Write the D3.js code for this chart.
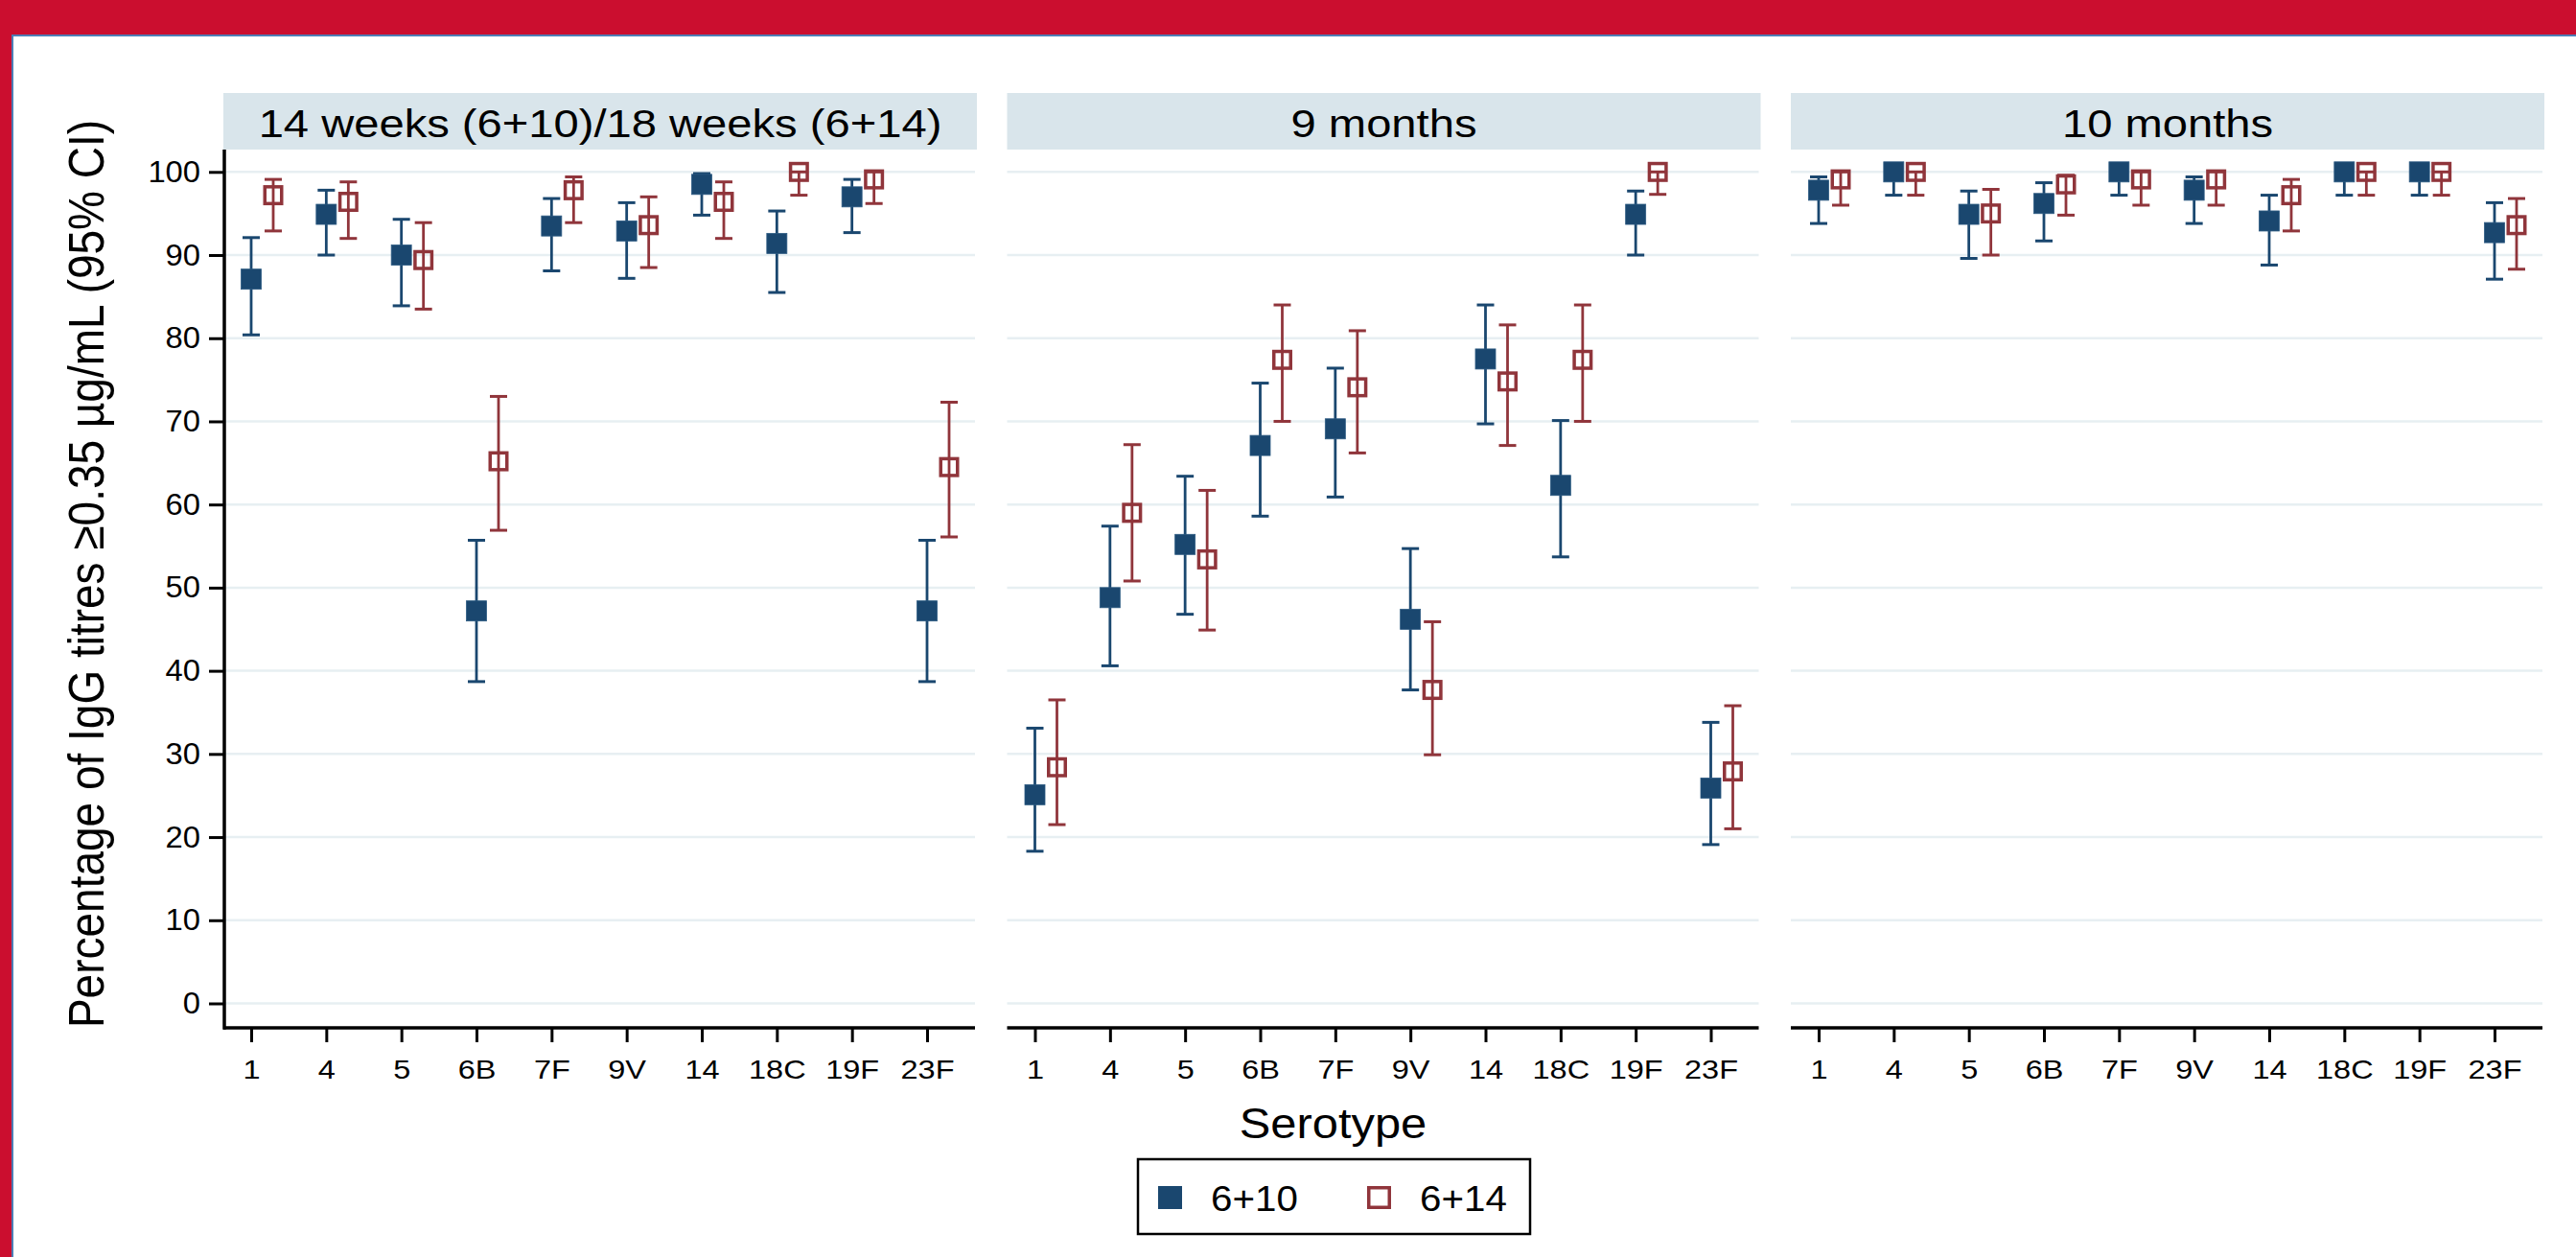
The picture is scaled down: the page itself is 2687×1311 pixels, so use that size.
<!DOCTYPE html>
<html>
<head>
<meta charset="utf-8">
<script src="https://cdn.jsdelivr.net/npm/d3@7"></script>
<style>
  body { margin: 0; background: #fff; }
  svg text { font-family: "Liberation Sans", Arial, sans-serif; fill: #000; }
</style>
</head>
<body>
<svg id="graph"></svg>
<script>
// données : % IgG >= 0.35 µg/mL (IC 95 %)
const serotypes = ["1", "4", "5", "6B", "7F", "9V", "14", "18C", "19F", "23F"];
const panelTitles = ["14 weeks (6+10)/18 weeks (6+14)", "9 months", "10 months"];
const groups = ["6+10", "6+14"];
const yTicks = [0, 10, 20, 30, 40, 50, 60, 70, 80, 90, 100];

// une ligne par panneau
const est610 = [
  [87.1, 94.9, 90.0, 47.2, 93.5, 92.9, 98.5, 91.4, 97.0, 47.2],
  [25.1, 48.8, 55.2, 67.1, 69.1, 46.2, 77.5, 62.3, 94.9, 25.9],
  [97.8, 100, 94.9, 96.2, 100, 97.8, 94.1, 100, 100, 92.7]
];
const lo610 = [
  [80.4, 90.0, 83.9, 38.7, 88.1, 87.2, 94.8, 85.5, 92.7, 38.7],
  [18.3, 40.6, 46.8, 58.6, 60.9, 37.7, 69.7, 53.7, 90.0, 19.1],
  [93.8, 97.2, 89.6, 91.7, 97.2, 93.8, 88.8, 97.2, 97.2, 87.1]
];
const hi610 = [
  [92.1, 97.8, 94.3, 55.7, 96.8, 96.3, 99.8, 95.3, 99.1, 55.7],
  [33.1, 57.4, 63.4, 74.6, 76.4, 54.7, 84.0, 70.1, 97.7, 33.8],
  [99.4, 100, 97.7, 98.7, 100, 99.4, 97.2, 100, 100, 96.3]
];
const est614 = [
  [97.2, 96.4, 89.4, 65.2, 97.8, 93.6, 96.4, 100, 99.1, 64.5],
  [28.4, 59.0, 53.4, 77.4, 74.1, 37.7, 74.8, 77.4, 100, 27.9],
  [99.1, 100, 95.0, 98.5, 99.1, 99.1, 97.2, 100, 100, 93.6]
];
const lo614 = [
  [92.9, 92.0, 83.5, 56.9, 93.9, 88.5, 92.0, 97.2, 96.2, 56.1],
  [21.5, 50.8, 44.9, 70.0, 66.2, 29.9, 67.1, 70.0, 97.3, 21.0],
  [96.0, 97.2, 90.0, 94.8, 96.0, 96.0, 92.9, 97.2, 97.2, 88.3]
];
const hi614 = [
  [99.1, 98.8, 93.9, 73.0, 99.4, 97.0, 98.8, 100, 100, 72.3],
  [36.5, 67.2, 61.7, 84.0, 80.9, 45.9, 81.6, 84.0, 100, 35.8],
  [100, 100, 97.9, 99.6, 100, 100, 99.1, 100, 100, 96.8]
];

const W = 2687, H = 1311;
const panelX0 = 233, panelStep = 817.5, panelW = 784;
const plotTop = 156, plotBottom = 1072;

const svg = d3.select("#graph").attr("width", W).attr("height", H);

// cadre rouge
svg.append("rect").attr("width", W).attr("height", H).attr("fill", "#fff");
svg.append("rect").attr("width", W).attr("height", 36).attr("fill", "#cb0e2f");
svg.append("rect").attr("width", 12).attr("height", H).attr("fill", "#cb0e2f");
svg.append("path")
  .attr("d", `M13,${H} V37 H${W}`)
  .attr("fill", "none").attr("stroke", "#4d7db5").attr("stroke-width", 2);

const y = d3.scaleLinear().domain([0, 100]).range([1046.5, 179.3]);
const x = d3.scalePoint().domain(serotypes).range([29, 734]);
const color = d3.scaleOrdinal(groups, ["#1a476f", "#90353b"]);
const shift = d3.scaleOrdinal(groups, [0, 23]);

const series = {
  "6+10": {est: est610, lo: lo610, hi: hi610},
  "6+14": {est: est614, lo: lo614, hi: hi614}
};

// texte étiré horizontalement comme sur l'original
function addText(sel, txt, tx, ty, size, sx, anchor, rot) {
  return sel.append("text")
    .attr("transform", `translate(${tx},${ty}) scale(${sx},1)` + (rot ? ` rotate(${rot})` : ""))
    .attr("text-anchor", anchor)
    .attr("font-size", size)
    .text(txt);
}

panelTitles.forEach((title, p) => {
  const g = svg.append("g").attr("transform", `translate(${panelX0 + p * panelStep},0)`);

  // bandeau de titre
  g.append("rect")
    .attr("x", 0).attr("y", 97).attr("width", panelW + 2).attr("height", 59)
    .attr("fill", "#d9e5eb");
  addText(g, title, (panelW + 2) / 2, 143, 41, 1.15, "middle");

  // grille
  g.selectAll(".grid")
    .data(yTicks)
    .enter().append("line")
    .attr("x1", 0).attr("x2", panelW)
    .attr("y1", d => y(d)).attr("y2", d => y(d))
    .attr("stroke", "#e7eff2").attr("stroke-width", 2.5);

  // axe x
  const ax = g.append("g").attr("transform", `translate(0,${plotBottom})`)
    .call(d3.axisBottom(x).tickSize(15).tickPadding(18));
  ax.select(".domain").remove();
  ax.selectAll(".tick line").attr("stroke", "#000").attr("stroke-width", 3);
  ax.selectAll(".tick text").attr("font-size", 28).attr("transform", "scale(1.16,1)");
  g.append("line")
    .attr("x1", 0).attr("x2", panelW)
    .attr("y1", plotBottom).attr("y2", plotBottom)
    .attr("stroke", "#000").attr("stroke-width", 3.5);

  // axe y (premier panneau seulement)
  if (p === 0) {
    const ay = g.append("g").attr("transform", "translate(1,0)")
      .call(d3.axisLeft(y).tickValues(yTicks).tickSize(16).tickPadding(8));
    ay.select(".domain").remove();
    ay.selectAll(".tick line").attr("stroke", "#000").attr("stroke-width", 3);
    ay.selectAll(".tick text").attr("font-size", 31.5).attr("transform", "scale(1.04,1)");
    g.append("line")
      .attr("x1", 1).attr("x2", 1)
      .attr("y1", plotTop).attr("y2", plotBottom + 1.75)
      .attr("stroke", "#000").attr("stroke-width", 3.5);
  }

  // intervalles de confiance et points
  groups.forEach(grp => {
    const s = series[grp];
    const rows = serotypes.map((sero, i) => ({
      sero: sero, est: s.est[p][i], lo: s.lo[p][i], hi: s.hi[p][i]
    }));
    const cx = d => x(d.sero) + shift(grp);
    const col = color(grp);

    g.selectAll(null).data(rows).enter().append("line")
      .attr("x1", cx).attr("x2", cx)
      .attr("y1", d => y(d.lo)).attr("y2", d => y(d.hi))
      .attr("stroke", col).attr("stroke-width", 2.8);
    ["lo", "hi"].forEach(k => {
      g.selectAll(null).data(rows).enter().append("line")
        .attr("x1", d => cx(d) - 9).attr("x2", d => cx(d) + 9)
        .attr("y1", d => y(d[k])).attr("y2", d => y(d[k]))
        .attr("stroke", col).attr("stroke-width", 3);
    });

    if (grp === "6+10") {
      g.selectAll(null).data(rows).enter().append("rect")
        .attr("x", d => cx(d) - 10.5).attr("y", d => y(d.est) - 10.5)
        .attr("width", 21).attr("height", 21)
        .attr("fill", col).attr("stroke", "#2c5a82").attr("stroke-width", 0.8);
    } else {
      g.selectAll(null).data(rows).enter().append("rect")
        .attr("x", d => cx(d) - 8.75).attr("y", d => y(d.est) - 8.75)
        .attr("width", 17.5).attr("height", 17.5)
        .attr("fill", "none").attr("stroke", col).attr("stroke-width", 3.5);
    }
  });
});

// titres des axes
addText(svg, "Percentage of IgG titres \u22650.35 \u00b5g/mL (95% CI)", 108, 598.5, 46, 1.11, "middle", -90);
addText(svg, "Serotype", 1390.5, 1187, 44, 1.11, "middle");

// légende
const leg = svg.append("g");
leg.append("rect")
  .attr("x", 1187).attr("y", 1209).attr("width", 409).attr("height", 78)
  .attr("fill", "#fff").attr("stroke", "#000").attr("stroke-width", 2.5);
const legX = d3.scaleOrdinal(groups, [1208, 1426]);
groups.forEach(grp => {
  if (grp === "6+10") {
    leg.append("rect").attr("x", legX(grp)).attr("y", 1237).attr("width", 25).attr("height", 24)
      .attr("fill", color(grp));
  } else {
    leg.append("rect").attr("x", legX(grp) + 1.75).attr("y", 1238.75).attr("width", 21.5).attr("height", 20.5)
      .attr("fill", "none").attr("stroke", color(grp)).attr("stroke-width", 3.5);
  }
  addText(leg, grp, legX(grp) + 55, 1263, 37, 1.09, "start");
});
</script>
</body>
</html>
